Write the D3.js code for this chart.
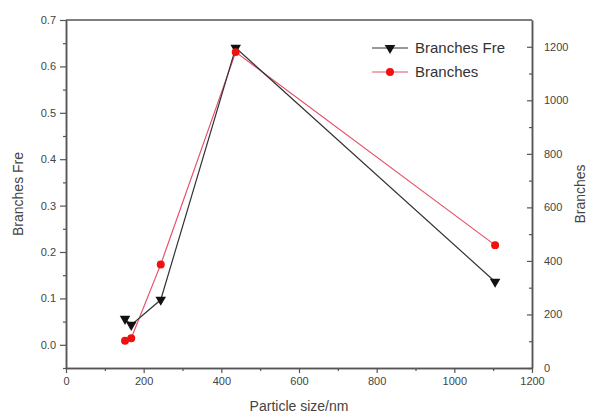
<!DOCTYPE html>
<html>
<head>
<meta charset="utf-8">
<script src="https://cdn.jsdelivr.net/npm/d3@7"></script>
<style>
  body { margin: 0; background: #fff; }
  svg { font-family: "Liberation Sans", Arial, sans-serif; }
</style>
</head>
<body>
<svg width="590" height="418"></svg>
<script>
// data
var sizes = [152, 168, 244, 437, 1105];
var branchesFre = [0.056, 0.043, 0.097, 0.64, 0.136];
var branches = [102, 111, 387, 1180, 459];
var xTicks = [0, 200, 400, 600, 800, 1000, 1200];
var leftTicks = [0.0, 0.1, 0.2, 0.3, 0.4, 0.5, 0.6, 0.7];
var rightTicks = [0, 200, 400, 600, 800, 1000, 1200];

var margin = {top: 20, right: 58, bottom: 50, left: 66};
var width = 590, height = 418;

var svg = d3.select('svg');

var x = d3.scaleLinear().domain([0, 1200]).range([margin.left, width - margin.right]);
var yL = d3.scaleLinear().domain([-0.05, 0.7]).range([height - margin.bottom, margin.top]);
var yR = d3.scaleLinear().domain([0, 1300]).range([height - margin.bottom, margin.top]);

var axisColor = "#555";
var textColor = "#444";

function styleAxis(g) {
  g.selectAll("path.domain").attr("stroke", axisColor).attr("stroke-width", 1.5);
  g.selectAll("line").attr("stroke", axisColor).attr("stroke-width", 1.2);
  g.selectAll("text").attr("fill", textColor).style("font-size", "11px");
}

// minor ticks first
svg.append("g")
  .attr("transform", "translate(0," + (height - margin.bottom) + ")")
  .call(d3.axisBottom(x).tickValues(d3.range(100, 1200, 200)).tickSize(3).tickFormat("").tickSizeOuter(0))
  .call(styleAxis);
svg.append("g")
  .attr("transform", "translate(" + margin.left + ",0)")
  .call(d3.axisLeft(yL).tickValues(d3.range(-0.05, 0.7, 0.1)).tickSize(3).tickFormat("").tickSizeOuter(0))
  .call(styleAxis);
svg.append("g")
  .attr("transform", "translate(" + (width - margin.right) + ",0)")
  .call(d3.axisLeft(yR).tickValues(d3.range(100, 1300, 200)).tickSize(3).tickFormat("").tickSizeOuter(0))
  .call(g => g.selectAll("text").remove())
  .call(styleAxis);

// major axes
svg.append("g")
  .attr("transform", "translate(0," + (height - margin.bottom) + ")")
  .call(d3.axisBottom(x).tickValues(xTicks).tickFormat(d3.format("d")).tickSize(5).tickPadding(4).tickSizeOuter(0))
  .call(styleAxis);

svg.append("g")
  .attr("transform", "translate(" + margin.left + ",0)")
  .call(d3.axisLeft(yL).tickValues(leftTicks).tickFormat(d3.format(".1f")).tickSize(6).tickPadding(4).tickSizeOuter(0))
  .call(styleAxis);

var right = svg.append("g")
  .attr("transform", "translate(" + (width - margin.right) + ",0)")
  .call(d3.axisRight(yR).tickValues(rightTicks).tickFormat(d3.format("d")).tickSize(0).tickPadding(12).tickSizeOuter(0))
  .call(styleAxis);
// right ticks point inward
right.selectAll(".tick line").attr("x2", -5);

// top frame line
svg.append("line")
  .attr("x1", margin.left).attr("x2", width - margin.right)
  .attr("y1", margin.top).attr("y2", margin.top)
  .attr("stroke", axisColor).attr("stroke-width", 1.5);

// axis titles
svg.append("text")
  .attr("x", (margin.left + width - margin.right) / 2)
  .attr("y", 411)
  .attr("text-anchor", "middle")
  .attr("fill", textColor)
  .style("font-size", "14px")
  .text("Particle size/nm");

svg.append("text")
  .attr("transform", "translate(23," + ((margin.top + height - margin.bottom) / 2) + ") rotate(-90)")
  .attr("text-anchor", "middle")
  .attr("fill", textColor)
  .style("font-size", "14px")
  .text("Branches Fre");

svg.append("text")
  .attr("transform", "translate(585," + ((margin.top + height - margin.bottom) / 2) + ") rotate(-90)")
  .attr("text-anchor", "middle")
  .attr("fill", textColor)
  .style("font-size", "14px")
  .text("Branches");

var tri = d3.symbol().type(d3.symbolTriangle).size(48);
var circ = d3.symbol().type(d3.symbolCircle).size(50);

var freData = sizes.map(function(d, i) { return {x: d, y: branchesFre[i]}; });
var brData = sizes.map(function(d, i) { return {x: d, y: branches[i]}; });

// Branches (red, right axis)
svg.append("path")
  .datum(brData)
  .attr("fill", "none")
  .attr("stroke", "#e8506a")
  .attr("stroke-width", 1.2)
  .attr("d", d3.line().x(d => x(d.x)).y(d => yR(d.y)));

// Branches Fre (black, left axis)
svg.append("path")
  .datum(freData)
  .attr("fill", "none")
  .attr("stroke", "#333")
  .attr("stroke-width", 1.2)
  .attr("d", d3.line().x(d => x(d.x)).y(d => yL(d.y)));

svg.selectAll(".fre")
  .data(freData)
  .enter().append("path")
  .attr("class", "fre")
  .attr("d", tri)
  .attr("transform", d => "translate(" + x(d.x) + "," + yL(d.y) + ") rotate(180)")
  .attr("fill", "#111");

svg.selectAll(".br")
  .data(brData)
  .enter().append("path")
  .attr("class", "br")
  .attr("d", circ)
  .attr("transform", d => "translate(" + x(d.x) + "," + yR(d.y) + ")")
  .attr("fill", "#f01010");

// legend
var legend = [
  {name: "Branches Fre", color: "#333", sym: tri, rot: 180, fill: "#111"},
  {name: "Branches", color: "#e8506a", sym: circ, rot: 0, fill: "#f01010"}
];
var lg = svg.selectAll(".legend")
  .data(legend)
  .enter().append("g")
  .attr("class", "legend")
  .attr("transform", (d, i) => "translate(372," + (48 + i * 24) + ")");
lg.append("line")
  .attr("x1", 0).attr("x2", 36)
  .attr("stroke", d => d.color).attr("stroke-width", 1.2);
lg.append("path")
  .attr("d", d => d.sym())
  .attr("transform", d => "translate(18,0) rotate(" + d.rot + ")")
  .attr("fill", d => d.fill);
lg.append("text")
  .attr("x", 43).attr("dy", "0.35em")
  .attr("fill", "#333")
  .style("font-size", "15px")
  .text(d => d.name);
</script>
</body>
</html>
